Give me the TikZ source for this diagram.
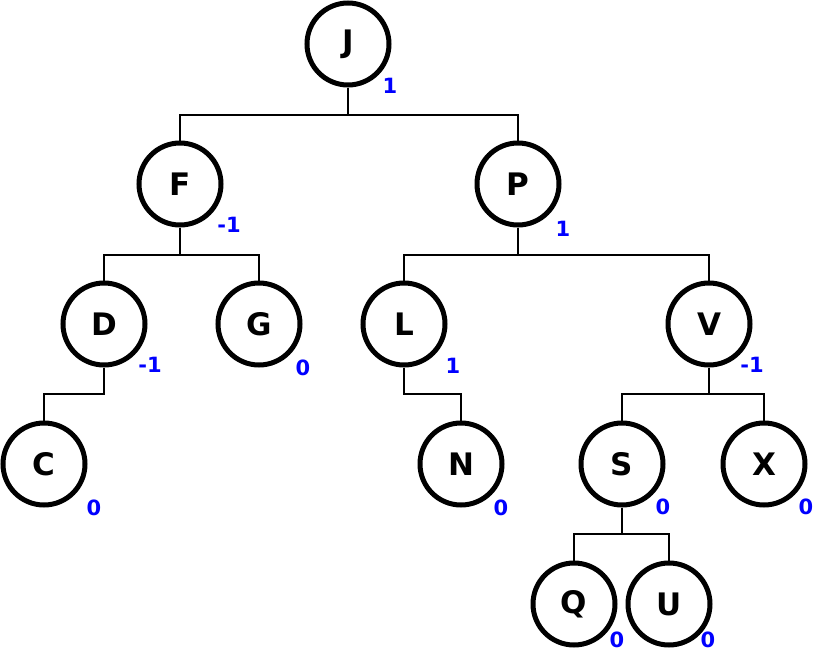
\documentclass[tikz,border=0pt]{standalone}
\usepackage{fontspec}
\setmainfont{DejaVu Sans}
\begin{document}
\begin{tikzpicture}[x=1pt,y=-1pt,
  vnode/.style={circle,draw=black,line width=5pt,minimum size=82pt,inner sep=0pt,font=\fontsize{31}{36}\selectfont\bfseries},
  bal/.style={text=blue,font=\fontsize{21}{25}\selectfont\bfseries,inner sep=0pt},
  edge/.style={draw=black,line width=1.6pt}]
\fill[white] (0,0) rectangle (820,653);
\useasboundingbox (0,0) rectangle (820,653);
\node[vnode] (J) at (348,44) {J};
\node[vnode] (F) at (180,184) {F};
\node[vnode] (P) at (518,184) {P};
\node[vnode] (D) at (104,324) {D};
\node[vnode] (G) at (259,324) {G};
\node[vnode] (L) at (404,324) {L};
\node[vnode] (V) at (709,324) {V};
\node[vnode] (C) at (44,464) {C};
\node[vnode] (N) at (461,464) {N};
\node[vnode] (S) at (622,464) {S};
\node[vnode] (X) at (764,464) {X};
\node[vnode] (Q) at (574,604) {Q};
\node[vnode] (U) at (669,604) {U};
\node[bal] (bJ) at (390,86) {1};
\node[bal] (bF) at (229,225) {-1};
\node[bal] (bP) at (563,229) {1};
\node[bal] (bD) at (150,365) {-1};
\node[bal] (bG) at (303,368) {0};
\node[bal] (bL) at (453,366) {1};
\node[bal] (bV) at (752,365) {-1};
\node[bal] (bC) at (94,508) {0};
\node[bal] (bN) at (501,508) {0};
\node[bal] (bS) at (663,507) {0};
\node[bal] (bX) at (806,507) {0};
\node[bal] (bQ) at (617,640) {0};
\node[bal] (bU) at (708,640) {0};
\coordinate (jb) at (348,115);
\coordinate (fb) at (180,255);
\coordinate (pb) at (518,255);
\coordinate (db) at (104,394);
\coordinate (lb) at (404,394);
\coordinate (vb) at (709,394);
\coordinate (sb) at (622,534);
\path[edge] (J.south) -- (jb) -| (F.north);
\path[edge] (jb) -| (P.north);
\path[edge] (F.south) -- (fb) -| (D.north);
\path[edge] (fb) -| (G.north);
\path[edge] (P.south) -- (pb) -| (L.north);
\path[edge] (pb) -| (V.north);
\path[edge] (D.south) -- (db) -| (C.north);
\path[edge] (L.south) -- (lb) -| (N.north);
\path[edge] (V.south) -- (vb) -| (S.north);
\path[edge] (vb) -| (X.north);
\path[edge] (S.south) -- (sb) -| (Q.north);
\path[edge] (sb) -| (U.north);
\end{tikzpicture}
\end{document}
